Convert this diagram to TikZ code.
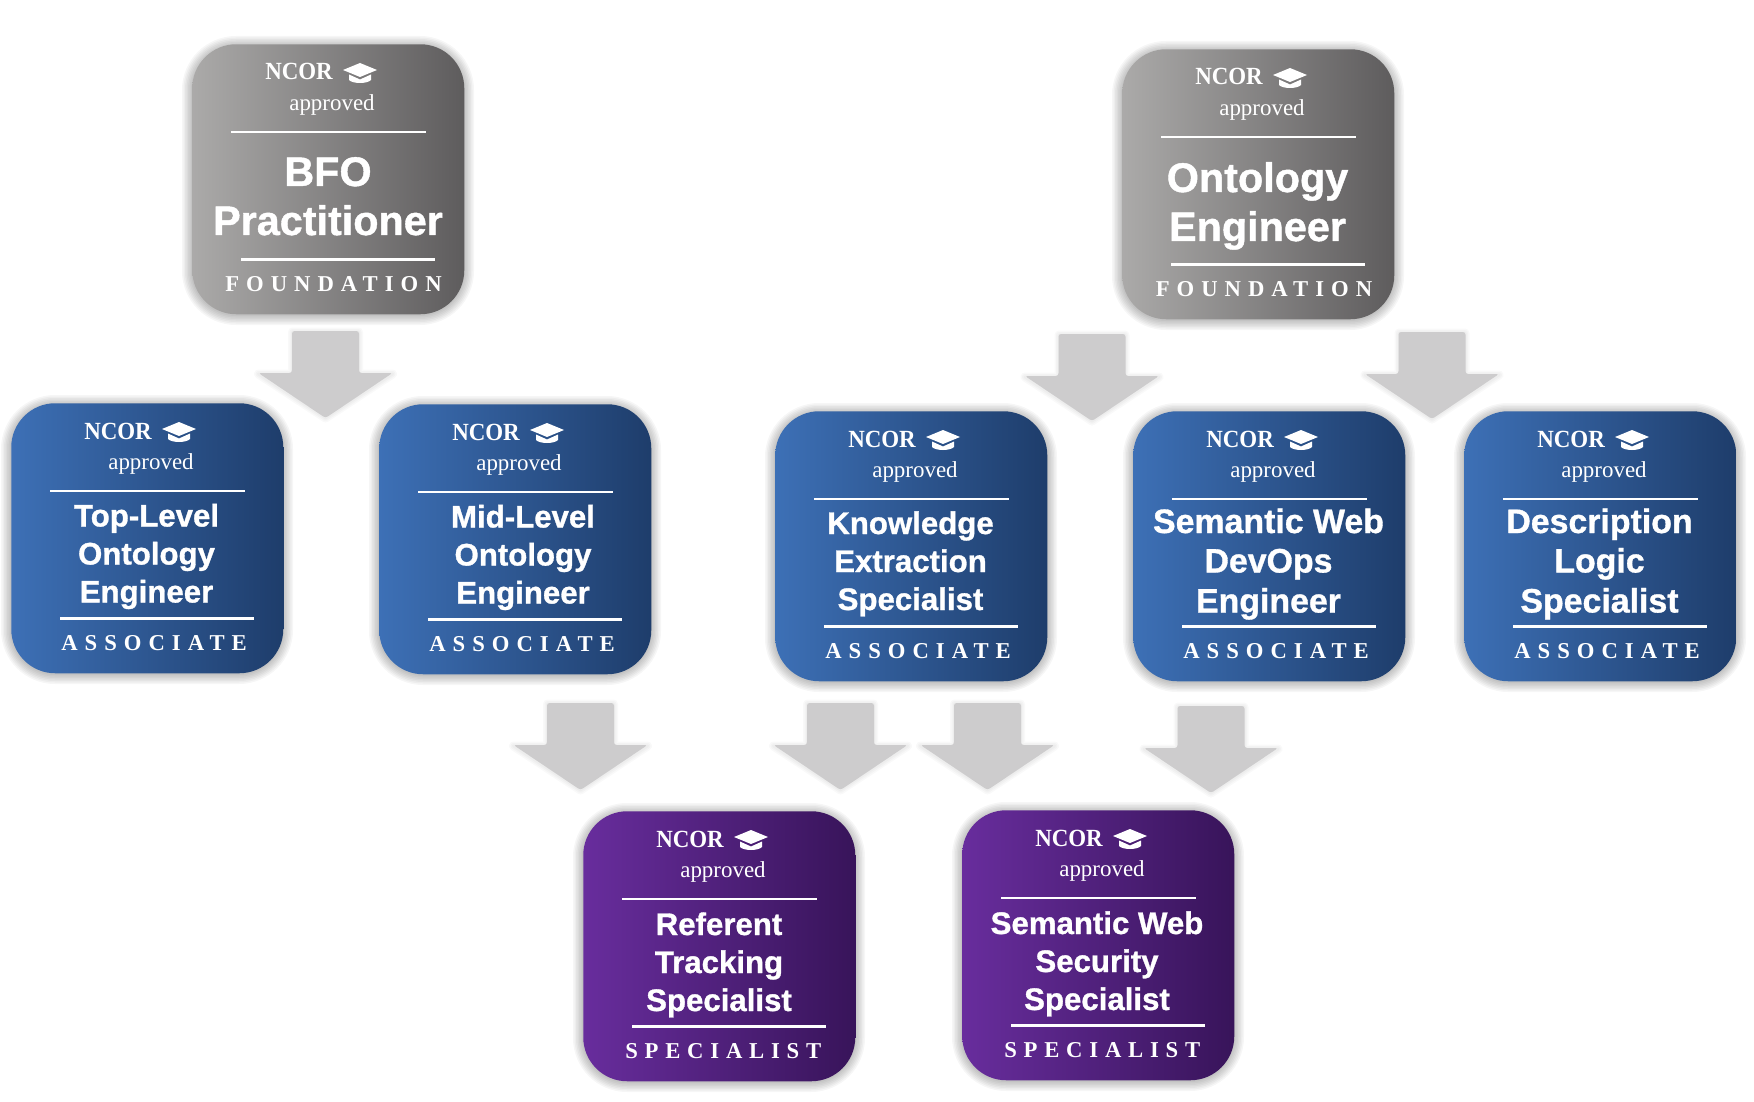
\documentclass[tikz,border=0pt]{standalone}
\usepackage{fontspec}
\setmainfont{Liberation Serif}
\newfontfamily\ttlfont{Liberation Sans}[BoldFeatures={FakeBold=1.0}]
\newfontfamily\ncorfont{Liberation Serif}[FakeStretch=0.93]
\newfontfamily\lvlF{Liberation Serif}[LetterSpace=31]
\newfontfamily\lvlA{Liberation Serif}[LetterSpace=31]
\newfontfamily\lvlS{Liberation Serif}[LetterSpace=30]
\definecolor{gL}{HTML}{ABAAA9}\definecolor{gR}{HTML}{5E5C5D}
\definecolor{bL}{HTML}{3D70B6}\definecolor{bR}{HTML}{1E3D6B}
\definecolor{pL}{HTML}{682D9D}\definecolor{pR}{HTML}{38145A}
\definecolor{arrowgrey}{HTML}{CDCCCD}
\tikzset{
  x=0.75pt,y=-0.75pt,
  card/.style={rectangle,rounded corners=33pt,minimum width=204pt,minimum height=202.5pt,inner sep=0pt,anchor=north west},
  cardgrey/.style={card,left color=gL,right color=gR},
  cardblue/.style={card,left color=bL,right color=bR},
  cardpurple/.style={card,left color=pL,right color=pR},
  ruleline/.style={draw=white,line width=2.1pt},
  txt/.style={text=white,inner sep=0pt},
  ncor/.style={txt,anchor=base west,font=\ncorfont\bfseries\fontsize{18.5}{18.5}\selectfont},
  appr/.style={txt,anchor=base,font=\fontsize{17.2}{17.2}\selectfont},
  lvl/.style={txt,anchor=base west},
  ttl/.style={txt,anchor=base,font=\ttlfont\bfseries\fontsize{#1}{#1}\selectfont},
}
% #1 name, #2 x, #3 y, #4 card style, #5 title size (pt), #6 title centre x, #7 list y/text, #8 level x, #9 level text with font
\newcommand{\badge}[9]{%
  \begin{scope}[shift={(#2,#3)}]
    \foreach \w in {20,17,14,11,8,5,2}{\draw[black,opacity=.035,line width=\w*0.75pt,rounded corners=33pt] (0,2) rectangle (272,271);}
    \node[#4] (#1) at (0,0) {};
    \node[ncor] (#1-ncor) at (73,36) {NCOR};
    \fill[white] (151,26) -- (168,19) -- (185,26) -- (168,33) -- cycle;
    \fill[white] (157,30.5) -- (168,35.5) -- (179,30.5) -- (179,36) .. controls (175,40) and (161,40) .. (157,36) -- cycle;
    \node[appr] (#1-appr) at (140,66.5) {approved};
    \coordinate (#1-a1) at (39,88);\coordinate (#1-a2) at (234,88);
    \draw[ruleline] (#1-a1) -- (#1-a2);
    \foreach \yy/\tt in {#7}{\node[ttl=#5] (#1-t\yy) at (#6,\yy) {\tt};}
    \coordinate (#1-b1) at (49,215.5);\coordinate (#1-b2) at (243,215.5);
    \draw[ruleline] (#1-b1) -- (#1-b2);
    \node[lvl] (#1-lvl) at (#8,247.5) {#9};
  \end{scope}}
\newcommand{\blockarrow}[2]{%
  \begin{scope}[shift={(#1,#2)}]
    \foreach \w in {9,6,3}{\draw[black,opacity=.025,line width=\w*0.75pt,line join=round] (-33,1) -- (33,1) -- (33,43) -- (67,43) -- (0,87) -- (-67,43) -- (-33,43) -- cycle;}
    \fill[arrowgrey,rounded corners=2pt] (-33.5,0) -- (33.5,0) -- (33.5,42) -- (67,42) -- (0,87) -- (-67,42) -- (-33.5,42) -- cycle;
  \end{scope}}
\newcommand{\FOUND}{\lvlF\bfseries\fontsize{17}{17}\selectfont FOUNDATION}
\newcommand{\ASSOC}{\lvlA\bfseries\fontsize{17}{17}\selectfont ASSOCIATE}
\newcommand{\SPEC}{\lvlS\bfseries\fontsize{17}{17}\selectfont SPECIALIST}
\begin{document}
\begin{tikzpicture}
\useasboundingbox (0,0) rectangle (1754,1102);
\fill[white] (0,0) rectangle (1754,1102);
\blockarrow{325.5}{331}
\blockarrow{1092}{334}
\blockarrow{1432}{332}
\blockarrow{580.5}{703}
\blockarrow{840.5}{703}
\blockarrow{987.5}{703}
\blockarrow{1211}{706}
\badge{bfo}{192}{44}{cardgrey}{31}{136}{142/BFO,191/Practitioner}{33}{\FOUND}
\badge{oe}{1122}{49}{cardgrey}{31}{135.5}{143/Ontology,192/Engineer}{33.5}{\FOUND}
\badge{tlo}{11}{403}{cardblue}{23.4}{135.5}{123.5/Top-Level,161.5/Ontology,199.5/Engineer}{50}{\ASSOC}
\badge{mlo}{379}{404}{cardblue}{23.4}{144}{123.5/Mid-Level,161.5/Ontology,199.5/Engineer}{50}{\ASSOC}
\badge{kes}{775}{411}{cardblue}{23.4}{135.5}{123/Knowledge,161/Extraction,199/Specialist}{50}{\ASSOC}
\badge{swd}{1133}{411}{cardblue}{25.4}{135.5}{122/Semantic Web,161.5/DevOps,201.5/Engineer}{50}{\ASSOC}
\badge{dls}{1464}{411}{cardblue}{25.4}{135.5}{122/Description,161.5/Logic,201.5/Specialist}{50}{\ASSOC}
\badge{rt}{583}{811}{cardpurple}{23.4}{136}{124/Referent,162/Tracking,200/Specialist}{42}{\SPEC}
\badge{sws}{962}{810}{cardpurple}{23.4}{135}{124/Semantic Web,162/Security,200/Specialist}{42}{\SPEC}
\end{tikzpicture}
\end{document}
